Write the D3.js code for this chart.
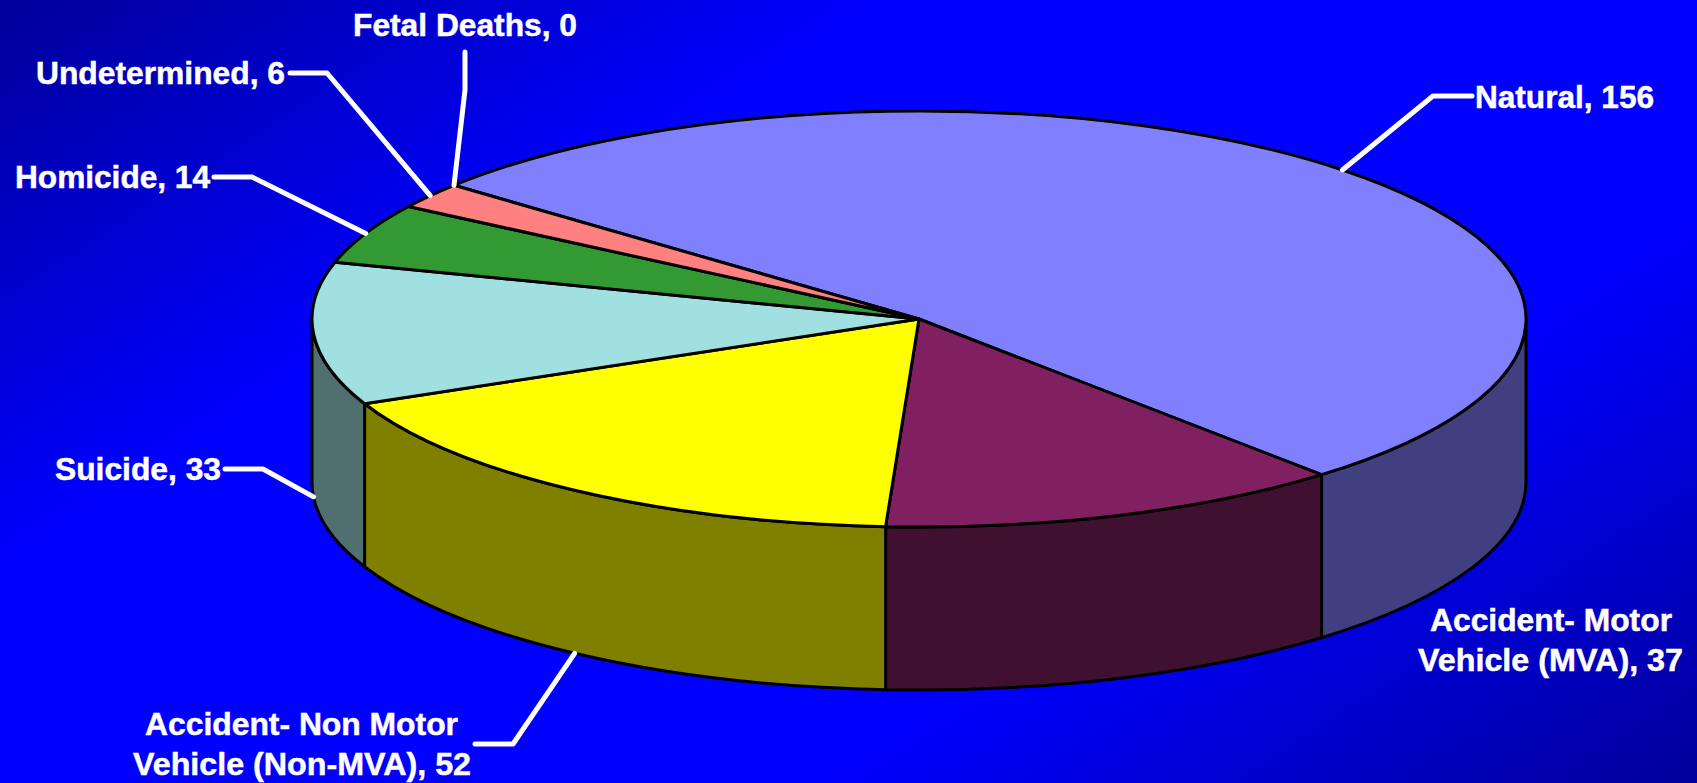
<!DOCTYPE html>
<html>
<head>
<meta charset="utf-8">
<script src="https://cdn.jsdelivr.net/npm/d3@7"></script>
<style>
  html, body { margin: 0; padding: 0; background: #0000ff; overflow: hidden; }
  svg { display: block; }
  text { font-family: "Liberation Sans", Arial, sans-serif; font-weight: bold; fill: #fff; stroke: #fff; stroke-width: 0.5px; }
</style>
</head>
<body>
<div id="chart"></div>
<script>
// data
var categories = ["Natural", "Accident- Motor Vehicle (MVA)", "Accident- Non Motor Vehicle (Non-MVA)",
  "Suicide", "Homicide", "Undetermined", "Fetal Deaths"];
var values = [156, 37, 52, 33, 14, 6, 0];
var topColors = ["#8080ff", "#802060", "#ffff00", "#a0e0e0", "#339933", "#ff8080", "#ff8080"];
var sideColors = ["#404080", "#401030", "#808000", "#507070", "#1a4d1a", "#804040", "#804040"];

var width = 1697;
var height = 783;
var cx = 919;
var cy = 319;
var rx = 607;
var ry = 208;
var depth = 163;
var startDeg = -50;

// label layout: text lines (left x, width, baseline) and leader start + elbow
var labelLayout = [
  {lines: [["Natural, 156", 1475, 179, 108]], leader: [[1472, 96], [1433, 96]]},
  {lines: [["Accident- Motor", 1430, 242, 631], ["Vehicle (MVA), 37", 1418, 265, 671]], leader: null},
  {lines: [["Accident- Non Motor", 145, 313, 735], ["Vehicle (Non-MVA), 52", 133, 338, 775]], leader: [[475, 744], [513, 744]]},
  {lines: [["Suicide, 33", 55, 166, 480]], leader: [[225, 469], [263, 469]]},
  {lines: [["Homicide, 14", 15, 195, 188]], leader: [[214, 177], [252, 177]]},
  {lines: [["Undetermined, 6", 36, 249, 84]], leader: [[290, 73], [327, 73]]},
  {lines: [["Fetal Deaths, 0", 353, 224, 36]], leader: [[465, 52], [465, 90]]}
];

var svg = d3.select("#chart").append("svg")
  .attr("width", width)
  .attr("height", height);

// band of pure blue across the middle, darker towards top left and bottom right
var grad = svg.append("defs").append("linearGradient")
  .attr("id", "bg")
  .attr("gradientUnits", "userSpaceOnUse")
  .attr("x1", 0).attr("y1", 0).attr("x2", 859).attr("y2", 1326);
grad.append("stop").attr("offset", 0).attr("stop-color", "#00009a");
grad.append("stop").attr("offset", 0.303).attr("stop-color", "#0000ff");
grad.append("stop").attr("offset", 0.697).attr("stop-color", "#0000ff");
grad.append("stop").attr("offset", 1).attr("stop-color", "#00009a");

svg.append("rect")
  .attr("width", width)
  .attr("height", height)
  .attr("fill", "url(#bg)");

var pie = d3.pie()
  .value(function(d) { return d; })
  .sort(null)
  .startAngle(startDeg * Math.PI / 180)
  .endAngle((startDeg + 360) * Math.PI / 180);

var slices = pie(values);

// angle is clockwise from the top, like d3.pie gives it
function px(a) { return cx + rx * Math.sin(a); }
function py(a) { return cy - ry * Math.cos(a); }

function topPath(d) {
  var large = d.endAngle - d.startAngle > Math.PI ? 1 : 0;
  return "M" + cx + "," + cy +
    "L" + px(d.startAngle) + "," + py(d.startAngle) +
    "A" + rx + "," + ry + " 0 " + large + " 1 " + px(d.endAngle) + "," + py(d.endAngle) + "Z";
}

// only the part of the rim between 90 and 270 degrees faces the viewer
function sidePath(d) {
  var a0 = Math.max(d.startAngle, Math.PI / 2);
  var a1 = Math.min(d.endAngle, 3 * Math.PI / 2);
  if (a1 <= a0) return null;
  return "M" + px(a0) + "," + py(a0) +
    "A" + rx + "," + ry + " 0 0 1 " + px(a1) + "," + py(a1) +
    "L" + px(a1) + "," + (py(a1) + depth) +
    "A" + rx + "," + ry + " 0 0 0 " + px(a0) + "," + (py(a0) + depth) + "Z";
}

svg.append("g").attr("class", "sides")
  .selectAll("path")
  .data(slices.filter(function(d) { return sidePath(d) !== null; }))
  .enter().append("path")
  .attr("d", sidePath)
  .attr("fill", function(d) { return sideColors[d.index]; })
  .attr("stroke", "#000")
  .attr("stroke-width", 3)
  .attr("stroke-linejoin", "round");

svg.append("g").attr("class", "tops")
  .selectAll("path")
  .data(slices.filter(function(d) { return d.value > 0; }))
  .enter().append("path")
  .attr("d", topPath)
  .attr("fill", function(d) { return topColors[d.index]; })
  .attr("stroke", "#000")
  .attr("stroke-width", 3)
  .attr("stroke-linejoin", "round");

// leader lines end on the rim at the middle of the slice
var line = d3.line();

svg.append("g").attr("class", "leaders")
  .selectAll("path")
  .data(slices.filter(function(d) { return labelLayout[d.index].leader; }))
  .enter().append("path")
  .attr("d", function(d) {
    var mid = (d.startAngle + d.endAngle) / 2;
    var endY = py(mid) + (Math.cos(mid) < 0 ? depth : 0);
    return line(labelLayout[d.index].leader.concat([[px(mid), endY]]));
  })
  .attr("fill", "none")
  .attr("stroke", "#fff")
  .attr("stroke-width", 5)
  .attr("stroke-linecap", "round")
  .attr("stroke-linejoin", "round");

labelLayout.forEach(function(l) {
  l.lines.forEach(function(t) {
    svg.append("text")
      .attr("x", t[1])
      .attr("y", t[3])
      .attr("font-size", 32)
      .attr("textLength", t[2])
      .attr("lengthAdjust", "spacingAndGlyphs")
      .text(t[0]);
  });
});
</script>
</body>
</html>
